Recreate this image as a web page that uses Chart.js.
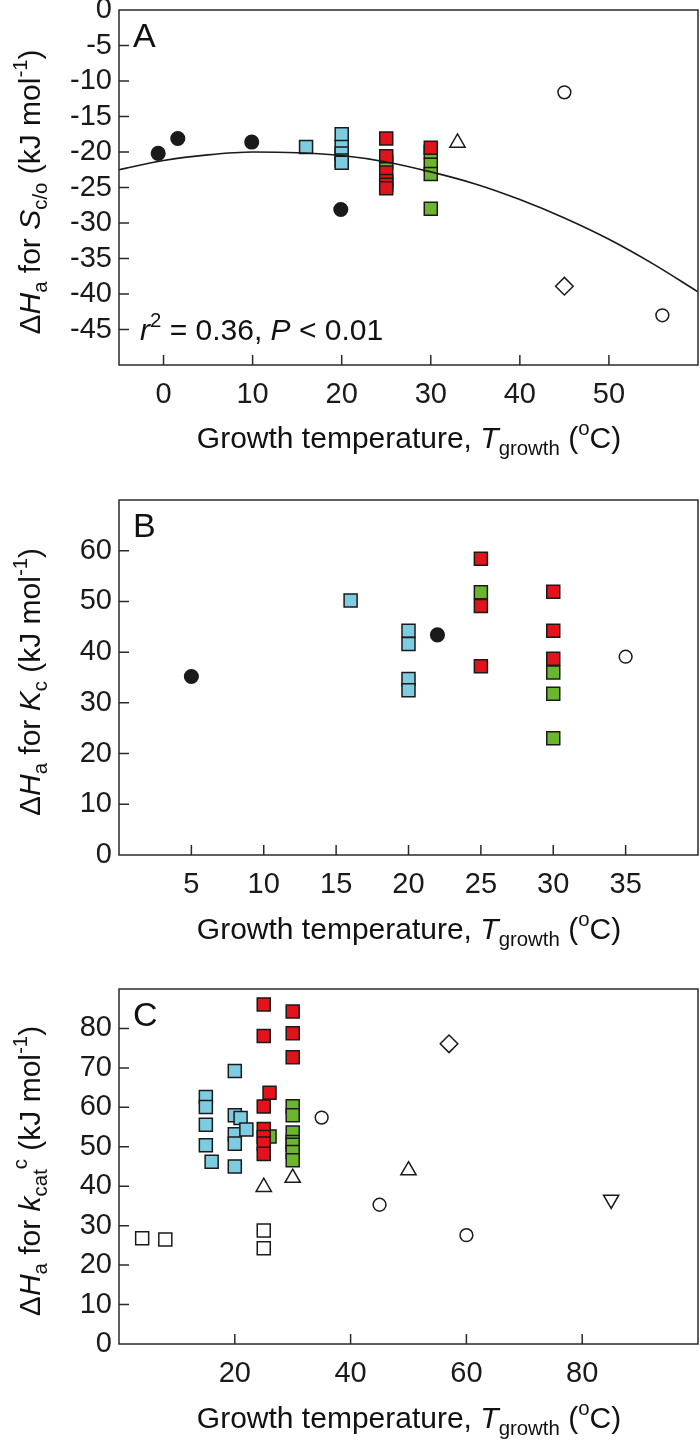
<!DOCTYPE html>
<html>
<head>
<meta charset="utf-8">
<title>Activation enthalpy vs growth temperature</title>
<script src="https://cdn.jsdelivr.net/npm/chart.js@4.4.1/dist/chart.umd.min.js"></script>
<style>
  body { margin: 0; background: #fff; }
  #wrap { position: relative; width: 700px; height: 1452px; font-family: "Liberation Sans", Arial, sans-serif; color: #111; }
  canvas { position: absolute; left: 0; }
  .lbl { position: absolute; white-space: nowrap; line-height: 1; }
  .xt { font-size: 30px; transform: translate(-50%, -50%); }
  .yt { font-size: 30px; transform: translate(-50%, -50%) rotate(-90deg); }
  .pl { font-size: 34px; }
  .an { font-size: 30px; }
  sub, sup { font-size: 68%; line-height: 0; }
  sub { vertical-align: -0.35em; }
  sup { vertical-align: 0.65em; }
</style>
</head>
<body>
<div id="wrap">
  <canvas id="chartA" width="700" height="490" style="top:0"></canvas>
  <canvas id="chartB" width="700" height="489" style="top:490px"></canvas>
  <canvas id="chartC" width="700" height="473" style="top:979px"></canvas>

  <div class="lbl pl" style="left:133px;top:18px">A</div>
  <div class="lbl pl" style="left:133px;top:508px">B</div>
  <div class="lbl pl" style="left:133px;top:997px">C</div>

  <div class="lbl an" style="left:140px;top:315px"><i>r</i><sup>2</sup> = 0.36,  <i>P</i> &lt; 0.01</div>

  <div class="lbl yt" style="left:30px;top:192px">Δ<i>H</i><sub>a</sub> for <i>S</i><sub>c/o</sub> (kJ mol<sup>-1</sup>)</div>
  <div class="lbl yt" style="left:30px;top:682px">Δ<i>H</i><sub>a</sub> for <i>K</i><sub>c</sub> (kJ mol<sup>-1</sup>)</div>
  <div class="lbl yt" style="left:30px;top:1171px">Δ<i>H</i><sub>a</sub> for <i>k</i><sub>cat</sub><sup>c</sup> (kJ mol<sup>-1</sup>)</div>

  <div class="lbl xt" style="left:409px;top:438px">Growth temperature, <i>T</i><sub>growth</sub> (<sup>o</sup>C)</div>
  <div class="lbl xt" style="left:409px;top:929px">Growth temperature, <i>T</i><sub>growth</sub> (<sup>o</sup>C)</div>
  <div class="lbl xt" style="left:409px;top:1418px">Growth temperature, <i>T</i><sub>growth</sub> (<sup>o</sup>C)</div>
</div>

<script>
// ---- panel A: dHa for Sc/o ----
const aXTicks = [0, 10, 20, 30, 40, 50];
const aYTicks = [0, -5, -10, -15, -20, -25, -30, -35, -40, -45];
const aBlackX = [-0.6, 1.6, 9.9, 19.9];
const aBlackY = [-20.2, -18.1, -18.6, -28.1];
const aBlueX = [16, 20, 20, 20, 20, 20];
const aBlueY = [-19.3, -17.5, -19.3, -20.2, -21.2, -21.5];
const aRedX = [25, 25, 25, 25, 25, 25, 30];
const aRedY = [-18.1, -20.6, -22.9, -24.1, -24.6, -25.1, -19.4];
const aGreenX = [25, 30, 30, 30, 30];
const aGreenY = [-21.4, -20.0, -21.8, -23.1, -28.0];
const aTriX = [33];
const aTriY = [-18.7];
const aCircleX = [45, 56];
const aCircleY = [-11.6, -43.0];
const aDiamondX = [45];
const aDiamondY = [-38.9];
// fitted curve
const aFitX = [-5, 0, 5, 10, 15, 20, 25, 30, 35, 40, 45, 50, 55, 60];
const aFitY = [-22.5, -21.2, -20.4, -20.0, -20.1, -20.5, -21.4, -22.8, -24.5, -26.7, -29.3, -32.3, -35.8, -39.7];

// ---- panel B: dHa for Kc ----
const bXTicks = [5, 10, 15, 20, 25, 30, 35];
const bYTicks = [0, 10, 20, 30, 40, 50, 60];
const bBlackX = [5, 22];
const bBlackY = [35.2, 43.4];
const bBlueX = [16, 20, 20, 20, 20];
const bBlueY = [50.2, 44.2, 41.6, 34.7, 32.5];
const bRedX = [25, 25, 25, 30, 30, 30];
const bRedY = [58.4, 49.1, 37.2, 51.9, 44.2, 38.7];
const bGreenX = [25, 30, 30, 30];
const bGreenY = [51.8, 36.0, 31.8, 23.0];
const bCircleX = [35];
const bCircleY = [39.1];

// ---- panel C: dHa for kcat ----
const cXTicks = [20, 40, 60, 80];
const cYTicks = [0, 10, 20, 30, 40, 50, 60, 70, 80];
const cBlueX = [15, 15, 15, 15, 16, 20, 20, 20, 20, 20, 21, 22];
const cBlueY = [62.6, 60.1, 55.6, 50.4, 46.2, 69.2, 58.0, 53.2, 50.8, 45.0, 57.3, 54.4];
const cRedX = [25, 25, 25, 25, 25, 25, 25, 26, 30, 30, 30];
const cRedY = [86.1, 78.1, 60.2, 54.5, 52.5, 50.8, 48.2, 63.7, 84.3, 78.8, 72.7];
const cGreenX = [26, 30, 30, 30, 30, 30, 30, 30];
const cGreenY = [52.6, 60.3, 58.0, 53.6, 51.2, 50.5, 48.7, 46.6];
const cOpenSqX = [4, 8, 25, 25];
const cOpenSqY = [26.8, 26.5, 28.8, 24.3];
const cTriX = [25, 30, 50];
const cTriY = [39.8, 42.1, 44.0];
const cCircleX = [35, 45, 60];
const cCircleY = [57.4, 35.3, 27.6];
const cDiamondX = [57];
const cDiamondY = [76.1];
const cDownTriX = [85];
const cDownTriY = [36.6];

const FONT = '"Liberation Sans", Arial, sans-serif';
const INK = '#1a1a1a';
const BLUE = '#7ecce2';
const RED = '#e3131b';
const GREEN = '#6cb52f';

function pts(xs, ys) {
    return xs.map((x, i) => ({ x: x, y: ys[i] }));
}

function marks(xs, ys, style, fill, r, rot) {
    return {
        data: pts(xs, ys),
        pointStyle: style,
        pointRadius: r,
        pointRotation: rot || 0,
        pointBackgroundColor: fill,
        pointBorderColor: INK,
        pointBorderWidth: 1.5,
        showLine: false
    };
}

// frame round the plot area and inward tick marks
const frameTicks = {
    id: 'frameTicks',
    afterDatasetsDraw(chart) {
        const ctx = chart.ctx;
        const a = chart.chartArea;
        const x = chart.scales.x, y = chart.scales.y;
        ctx.save();
        ctx.strokeStyle = '#2a2a2a';
        ctx.lineWidth = 1.5;
        ctx.strokeRect(a.left, a.top, a.right - a.left, a.bottom - a.top);
        ctx.beginPath();
        x.ticks.forEach(t => {
            const px = x.getPixelForValue(t.value);
            if (px > a.left + 2 && px < a.right - 2) {
                ctx.moveTo(px, a.bottom);
                ctx.lineTo(px, a.bottom - 10);
            }
        });
        y.ticks.forEach(t => {
            const py = y.getPixelForValue(t.value);
            if (py > a.top + 2 && py < a.bottom - 2) {
                ctx.moveTo(a.left, py);
                ctx.lineTo(a.left + 10, py);
            }
        });
        ctx.stroke();
        ctx.restore();
    }
};

function axes(xMin, xMax, xTicks, yMin, yMax, yTicks) {
    const tickFont = { family: FONT, size: 29 };
    return {
        x: {
            type: 'linear', min: xMin, max: xMax,
            afterBuildTicks: s => { s.ticks = xTicks.map(v => ({ value: v })); },
            afterFit: s => {
                s.height = s.chart.height - 365;
                s.paddingLeft = 0;
                s.paddingRight = 0;
            },
            grid: { display: false, drawTicks: false },
            border: { display: false },
            ticks: { color: INK, font: tickFont, padding: 13, maxRotation: 0, autoSkip: false }
        },
        y: {
            type: 'linear', min: yMin, max: yMax,
            afterBuildTicks: s => { s.ticks = yTicks.map(v => ({ value: v })); },
            afterFit: s => {
                s.width = 119;
                s.paddingTop = 0;
                s.paddingBottom = 0;
            },
            grid: { display: false, drawTicks: false },
            border: { display: false },
            ticks: { color: INK, font: tickFont, padding: 7, autoSkip: false }
        }
    };
}

function makeChart(id, datasets, scales) {
    return new Chart(document.getElementById(id).getContext('2d'), {
        type: 'scatter',
        data: { datasets: datasets },
        options: {
            responsive: false,
            animation: false,
            events: [],
            layout: { autoPadding: false, padding: { top: 10, right: 2, left: 0, bottom: 0 } },
            plugins: { legend: { display: false }, tooltip: { enabled: false } },
            scales: scales
        },
        plugins: [frameTicks]
    });
}

makeChart('chartA', [
    {
        data: pts(aFitX, aFitY), showLine: true, pointRadius: 0,
        borderColor: INK, borderWidth: 1.6, cubicInterpolationMode: 'monotone'
    },
    marks(aBlueX, aBlueY, 'rect', BLUE, 9.2),
    marks(aRedX, aRedY, 'rect', RED, 9.2),
    marks(aGreenX, aGreenY, 'rect', GREEN, 9.2),
    marks(aBlackX, aBlackY, 'circle', INK, 6.8),
    marks(aTriX, aTriY, 'triangle', '#fff', 8.8),
    marks(aCircleX, aCircleY, 'circle', '#fff', 6.4),
    marks(aDiamondX, aDiamondY, 'rectRot', '#fff', 8.8)
], axes(-5, 60, aXTicks, -50, 0, aYTicks));

makeChart('chartB', [
    marks(bBlueX, bBlueY, 'rect', BLUE, 9.2),
    marks(bRedX, bRedY, 'rect', RED, 9.2),
    marks(bGreenX, bGreenY, 'rect', GREEN, 9.2),
    marks(bBlackX, bBlackY, 'circle', INK, 6.8),
    marks(bCircleX, bCircleY, 'circle', '#fff', 6.4)
], axes(0, 40, bXTicks, 0, 70, bYTicks));

makeChart('chartC', [
    marks(cBlueX, cBlueY, 'rect', BLUE, 9.2),
    marks(cRedX, cRedY, 'rect', RED, 9.2),
    marks(cGreenX, cGreenY, 'rect', GREEN, 9.2),
    marks(cOpenSqX, cOpenSqY, 'rect', '#fff', 9.2),
    marks(cTriX, cTriY, 'triangle', '#fff', 8.8),
    marks(cCircleX, cCircleY, 'circle', '#fff', 6.4),
    marks(cDiamondX, cDiamondY, 'rectRot', '#fff', 8.8),
    marks(cDownTriX, cDownTriY, 'triangle', '#fff', 8.8, 180)
], axes(0, 100, cXTicks, 0, 90, cYTicks));
</script>
</body>
</html>
